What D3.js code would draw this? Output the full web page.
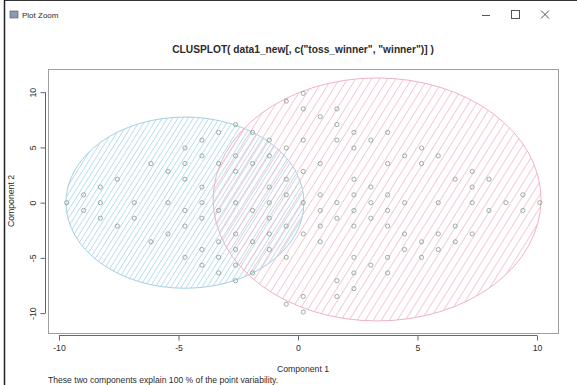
<!DOCTYPE html>
<html>
<head>
<meta charset="utf-8">
<script src="https://cdn.jsdelivr.net/npm/d3@7"></script>
<style>
  body { margin: 0; background: #fff; }
  text { font-family: "Liberation Sans", Arial, sans-serif; fill: #2b2b2b; }
</style>
</head>
<body>
<div id="clusplot"></div>
<script>
// observations (component 1, component 2), listed column by column
const pointX = [
  -9.68,
  -8.97, -8.97,
  -8.27, -8.27, -8.27,
  -7.56, -7.56,
  -6.85, -6.85,
  -6.15, -6.15,
  -5.44, -5.44, -5.44,
  -4.73, -4.73, -4.73, -4.73, -4.73, -4.73,
  -4.02, -4.02, -4.02, -4.02, -4.02, -4.02, -4.02,
  -3.32, -3.32, -3.32, -3.32, -3.32, -3.32,
  -2.61, -2.61, -2.61, -2.61, -2.61, -2.61, -2.61, -2.61,
  -1.90, -1.90, -1.90, -1.90, -1.90,
  -1.20, -1.20, -1.20, -1.20, -1.20, -1.20, -1.20,
  -0.49, -0.49, -0.49, -0.49, -0.49, -0.49, -0.49,
  0.22, 0.22, 0.22, 0.22, 0.22, 0.22, 0.22, 0.22,
  0.93, 0.93, 0.93, 0.93, 0.93, 0.93,
  1.63, 1.63, 1.63, 1.63, 1.63, 1.63, 1.63,
  2.34, 2.34, 2.34, 2.34, 2.34, 2.34, 2.34, 2.34, 2.34,
  3.05, 3.05, 3.05, 3.05, 3.05,
  3.75, 3.75, 3.75, 3.75, 3.75, 3.75, 3.75,
  4.46, 4.46, 4.46, 4.46,
  5.17, 5.17, 5.17, 5.17,
  5.87, 5.87, 5.87, 5.87,
  6.58, 6.58, 6.58,
  7.29, 7.29, 7.29, 7.29,
  7.99, 7.99,
  8.70,
  9.41, 9.41,
  10.12
];
const pointY = [
  0,
  0.71, -0.71,
  1.41, 0, -1.41,
  2.12, -2.12,
  0, -1.41,
  3.54, -3.54,
  2.83, 0, -2.83,
  4.95, 3.54, 2.12, -0.71, -2.12, -4.95,
  5.66, 4.24, 1.41, 0, -1.41, -4.24, -5.66,
  6.36, 3.54, -0.71, -3.54, -4.95, -6.36,
  7.07, 4.24, 2.83, 0, -2.83, -4.24, -5.66, -7.07,
  6.36, 3.54, -0.71, -3.54, -6.36,
  5.66, 4.24, 1.41, 0, -1.41, -2.83, -4.24,
  9.19, 4.95, 2.12, 0.71, -2.12, -4.95, -9.19,
  9.90, 8.49, 5.66, 2.83, 0, -2.83, -8.49, -9.90,
  7.78, 3.54, 0.71, -0.71, -2.12, -3.54,
  8.49, 7.07, 5.66, 0, -1.41, -7.07, -8.49,
  6.36, 4.95, 2.12, 0.71, -0.71, -2.12, -4.95, -6.36, -7.78,
  5.66, 1.41, 0, -1.41, -5.66,
  6.36, 3.54, 0.71, -0.71, -2.12, -4.95, -6.36,
  4.24, 0, -2.83, -4.24,
  4.95, 3.54, -3.54, -4.95,
  4.24, 0, -2.83, -4.24,
  2.12, -2.12, -3.54,
  2.83, 1.41, 0, -2.83,
  2.12, -0.71,
  0,
  0.71, -0.71,
  0
];

// cluster ellipses
const clusterName = ["cluster1", "cluster2"];
const clusterCenterX = [-4.73, 3.31];
const clusterCenterY = [0, 0.29];
const clusterRadiusX = [4.98, 6.86];
const clusterRadiusY = [7.75, 11.0];

const xTicks = [-10, -5, 0, 5, 10];
const yTicks = [-10, -5, 0, 5, 10];

const W = 577, H = 385;
const box = { left: 48, right: 558, top: 69, bottom: 333 };

const svg = d3.select("#clusplot").append("svg")
  .attr("width", W).attr("height", H);

/* window frame */
svg.append("line").attr("x1", 4).attr("x2", W).attr("y1", 0.5).attr("y2", 0.5)
  .attr("stroke", "#333").attr("stroke-width", 1);
svg.append("line").attr("x1", 4.5).attr("x2", 4.5).attr("y1", 0).attr("y2", H)
  .attr("stroke", "#222").attr("stroke-width", 1.5);
svg.append("rect").attr("x", 10).attr("y", 11).attr("width", 8).attr("height", 7)
  .attr("fill", "#8a9ab0").attr("stroke", "#555").attr("stroke-width", 0.6);
svg.append("text").attr("x", 22).attr("y", 18).attr("font-size", 8).text("Plot Zoom");
// minimise / maximise / close
svg.append("line").attr("x1", 482).attr("x2", 490).attr("y1", 15.5).attr("y2", 15.5)
  .attr("stroke", "#555");
svg.append("rect").attr("x", 511.5).attr("y", 10.5).attr("width", 8).attr("height", 8)
  .attr("fill", "none").attr("stroke", "#555");
svg.append("path").attr("d", "M541,10.5 L549,18.5 M549,10.5 L541,18.5")
  .attr("stroke", "#555").attr("fill", "none");

/* scales */
const x = d3.scaleLinear().domain([-10.46, 10.88]).range([box.left, box.right]);
const y = d3.scaleLinear().domain([-11.8, 12.1]).range([box.bottom, box.top]);

/* hatch patterns */
const defs = svg.append("defs");
const hatch = [
  { id: "hatchBlue", gap: 4.4, col: "#b9dded" },
  { id: "hatchPink", gap: 6.8, col: "#f5c2cf" }
];
hatch.forEach(h => {
  const p = defs.append("pattern")
    .attr("id", h.id)
    .attr("patternUnits", "userSpaceOnUse")
    .attr("width", h.gap).attr("height", 20)
    .attr("patternTransform", "rotate(32)");
  p.append("line")
    .attr("x1", h.gap / 2).attr("x2", h.gap / 2)
    .attr("y1", 0).attr("y2", 20)
    .attr("stroke", h.col).attr("stroke-width", 0.9);
});
const outline = ["#a2d0e4", "#efb2c2"];

const plot = svg.append("g");

plot.selectAll("ellipse.clus")
  .data(clusterName).enter()
  .append("ellipse")
  .attr("class", "clus")
  .attr("cx", (d, i) => x(clusterCenterX[i]))
  .attr("cy", (d, i) => y(clusterCenterY[i]))
  .attr("rx", (d, i) => x(clusterCenterX[i] + clusterRadiusX[i]) - x(clusterCenterX[i]))
  .attr("ry", (d, i) => y(clusterCenterY[i]) - y(clusterCenterY[i] + clusterRadiusY[i]))
  .attr("fill", (d, i) => `url(#${hatch[i].id})`)
  .attr("stroke", (d, i) => outline[i])
  .attr("stroke-width", 1);

/* points */
plot.selectAll("circle.pt")
  .data(pointX).enter()
  .append("circle")
  .attr("class", "pt")
  .attr("cx", d => x(d))
  .attr("cy", (d, i) => y(pointY[i]))
  .attr("r", 2.1)
  .attr("fill", "none")
  .attr("stroke", "#819d8b")
  .attr("stroke-width", 0.8);

/* box */
svg.append("rect")
  .attr("x", box.left + 0.5).attr("y", box.top + 0.5)
  .attr("width", box.right - box.left).attr("height", box.bottom - box.top)
  .attr("fill", "none").attr("stroke", "#a0a0a0").attr("stroke-width", 1);

/* axes */
const xAxis = d3.axisBottom(x).tickValues(xTicks).tickSize(5).tickSizeOuter(0)
  .tickPadding(4).tickFormat(d => String(d));
const gx = svg.append("g")
  .attr("transform", `translate(0, ${box.bottom + 2.5})`)
  .call(xAxis);
gx.select(".domain").remove();
gx.append("line")
  .attr("x1", x(-10)).attr("x2", x(10))
  .attr("stroke", "#666");
gx.selectAll(".tick line").attr("stroke", "#666");
gx.selectAll(".tick text").attr("font-size", 8.7).attr("fill", "#2b2b2b")
  .style("font-family", "'Liberation Sans', Arial, sans-serif");

const yAxis = d3.axisLeft(y).tickValues(yTicks).tickSize(5).tickSizeOuter(0)
  .tickFormat(d => String(d));
const gy = svg.append("g")
  .attr("transform", `translate(${box.left - 2.5}, 0)`)
  .call(yAxis);
gy.select(".domain").remove();
gy.append("line")
  .attr("y1", y(-10)).attr("y2", y(10))
  .attr("stroke", "#666");
gy.selectAll(".tick line").attr("stroke", "#666");
gy.selectAll(".tick text")
  .attr("font-size", 8.7).attr("fill", "#2b2b2b")
  .style("font-family", "'Liberation Sans', Arial, sans-serif")
  .attr("text-anchor", "middle")
  .attr("dy", 0).attr("x", 0).attr("y", -10)
  .attr("transform", "rotate(-90)");

/* titles */
const midX = (box.left + box.right) / 2;
svg.append("text")
  .attr("x", midX).attr("y", 53)
  .attr("text-anchor", "middle")
  .attr("font-size", 10.2).attr("font-weight", "bold")
  .text('CLUSPLOT( data1_new[, c("toss_winner", "winner")] )');
svg.append("text")
  .attr("x", midX).attr("y", 372)
  .attr("text-anchor", "middle")
  .attr("font-size", 8.7)
  .text("Component 1");
svg.append("text")
  .attr("transform", `translate(14, ${(box.top + box.bottom) / 2}) rotate(-90)`)
  .attr("text-anchor", "middle")
  .attr("font-size", 8.7)
  .text("Component 2");
svg.append("text")
  .attr("x", box.left).attr("y", 383)
  .attr("font-size", 8.6)
  .text("These two components explain 100 % of the point variability.");
</script>
</body>
</html>
